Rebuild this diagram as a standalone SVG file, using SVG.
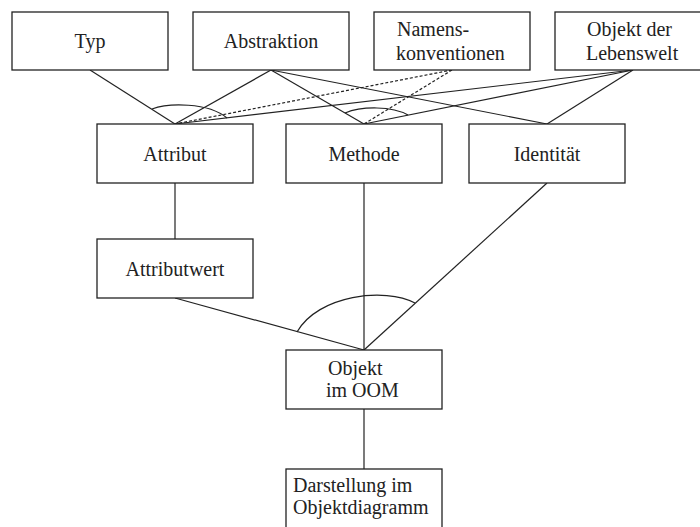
<svg xmlns="http://www.w3.org/2000/svg" width="700" height="527" viewBox="0 0 700 527">
<style>
.box{fill:#fff;stroke:#222;stroke-width:1.3}
.t{font-family:'Liberation Serif','DejaVu Serif',serif;font-size:20px;fill:#222}
.c{text-anchor:middle}
.ln{stroke:#222;stroke-width:1.2;fill:none}
.d{stroke-dasharray:3 2}
</style>
<rect width="700" height="527" fill="#fff"/>
<g id="connectors">
<line class="ln" x1="90" y1="70" x2="175" y2="124"/>
<line class="ln" x1="271" y1="70" x2="175" y2="124"/>
<line class="ln" x1="271" y1="70" x2="364" y2="124"/>
<line class="ln" x1="271" y1="70" x2="547" y2="124"/>
<line class="ln d" x1="452" y1="70" x2="175" y2="124"/>
<line class="ln d" x1="452" y1="70" x2="364" y2="124"/>
<line class="ln" x1="633" y1="70" x2="175" y2="124"/>
<line class="ln" x1="633" y1="70" x2="364" y2="124"/>
<line class="ln" x1="633" y1="70" x2="547" y2="124"/>
<line class="ln" x1="175" y1="183" x2="175" y2="239"/>
<line class="ln" x1="175" y1="298" x2="364" y2="350"/>
<line class="ln" x1="364" y1="183" x2="364" y2="350"/>
<line class="ln" x1="547" y1="183" x2="364" y2="350"/>
<line class="ln" x1="364" y1="409" x2="364" y2="469"/>
<path class="ln" d="M152,109 C168,103 208,102 227,118"/>
<path class="ln" d="M345,113 C362,106 392,106 408,115"/>
<path class="ln" d="M297,332 C318,295 385,287 415,303"/>
</g>
<g id="typ"><rect class="box" x="12" y="12" width="156" height="58"/><text class="t c" x="90" y="48" font-family="Liberation Serif, serif">Typ</text></g>
<g id="abstraktion"><rect class="box" x="193" y="12" width="156" height="58"/><text class="t c" x="271" y="48">Abstraktion</text></g>
<g id="namenskonventionen"><rect class="box" x="374" y="12" width="156" height="58"/><text class="t" x="397" y="36">Namens-</text><text class="t" x="396" y="60">konventionen</text></g>
<g id="objekt-lebenswelt"><rect class="box" x="555" y="12" width="160" height="58"/><text class="t" x="587" y="36">Objekt der</text><text class="t" x="586" y="60">Lebenswelt</text></g>
<g id="attribut"><rect class="box" x="97" y="124" width="156" height="59"/><text class="t c" x="175" y="161">Attribut</text></g>
<g id="methode"><rect class="box" x="286" y="124" width="156" height="59"/><text class="t c" x="364" y="161">Methode</text></g>
<g id="identitaet"><rect class="box" x="469" y="124" width="156" height="59"/><text class="t c" x="547" y="161">Identität</text></g>
<g id="attributwert"><rect class="box" x="97" y="239" width="156" height="59"/><text class="t c" x="175" y="276">Attributwert</text></g>
<g id="objekt-oom"><rect class="box" x="286" y="350" width="156" height="59"/><text class="t" x="328" y="375">Objekt</text><text class="t" x="326" y="397">im OOM</text></g>
<g id="darstellung"><rect class="box" x="286" y="469" width="156" height="62"/><text class="t" x="293" y="492">Darstellung im</text><text class="t" x="293" y="514">Objektdiagramm</text></g>
</svg>
